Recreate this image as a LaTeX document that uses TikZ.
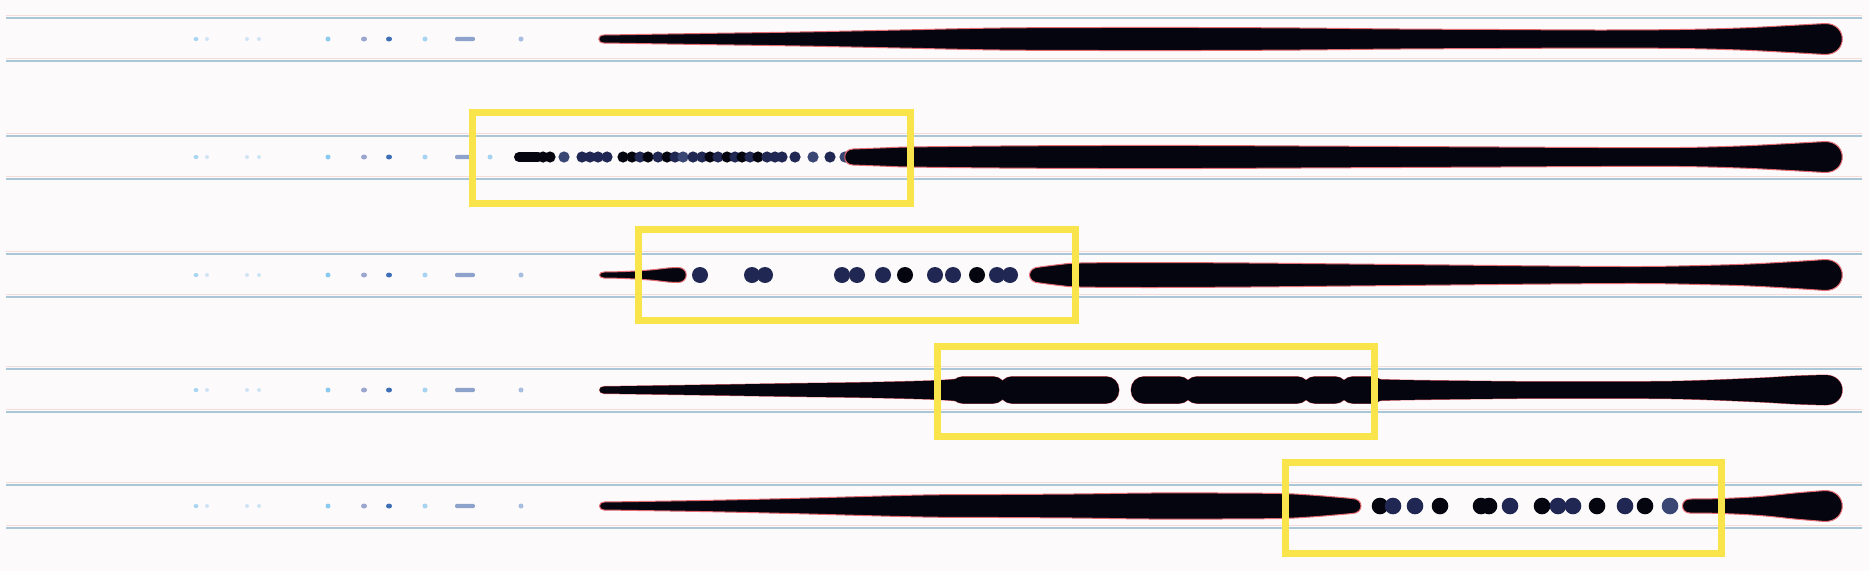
\documentclass[tikz,border=0pt]{standalone}
\definecolor{ink}{HTML}{05050F}
\definecolor{navy}{HTML}{1F2752}
\definecolor{navyl}{HTML}{3A4674}
\definecolor{fringe}{HTML}{E56A72}
\definecolor{rule}{HTML}{A9C7D6}
\definecolor{rulepink}{HTML}{F6DCD6}
\definecolor{hl}{HTML}{F9E44C}
\definecolor{bg}{HTML}{FCFAFB}
\definecolor{dA}{HTML}{A6D4F2}
\definecolor{dB}{HTML}{CFE5F5}
\definecolor{dC}{HTML}{8CCBF0}
\definecolor{dD}{HTML}{9AA6D0}
\definecolor{dE}{HTML}{3E6FB6}
\definecolor{dF}{HTML}{8EA3CC}
\definecolor{dG}{HTML}{A8BEE0}
\tikzset{
  streak/.style={fill=ink, draw=fringe, line width=1pt, line join=round},
  plainfill/.style={fill=ink},
  guide/.style={draw=rule, line width=1.6pt},
  guidep/.style={draw=rulepink, line width=1.4pt},
  hlbox/.style={draw=hl, line width=7pt},
  blob/.style={fill=ink, draw=fringe, line width=0.8pt, rounded corners=13pt},
  blobfill/.style={fill=ink, rounded corners=13pt},
}
\newcommand\rowlines{%
  \draw[guidep] (6,-23.5) -- (1862,-23.5);
  \draw[guide] (6,-21) -- (1862,-21);
  \draw[guidep] (6,19.5) -- (1862,19.5);
  \draw[guide] (6,22) -- (1862,22);
  \fill[dA] (196,0) ellipse[x radius=2.5pt, y radius=2pt];
  \fill[dB] (207,0) circle[radius=2pt];
  \fill[dB] (247,0) circle[radius=2pt];
  \fill[dB] (259,0) circle[radius=2pt];
  \fill[dC] (328,0) circle[radius=2.5pt];
  \fill[dD] (364,0) ellipse[x radius=3pt, y radius=2.5pt];
  \fill[dE] (389,0) ellipse[x radius=3pt, y radius=2.5pt];
  \fill[dA] (425,0) circle[radius=2.5pt];
  \fill[dF, rounded corners=2pt] (455,-2.2) rectangle (475,2.2);
}
% row 4 shapes: #1 streak style, #2 blob style
\newcommand\rowfourshapes[2]{%
  \path[#1] plot[smooth, tension=.6] coordinates {(604,-3.5) (700,-5) (790,-6.5) (860,-7.5) (923,-9) (945,-10) (962,-11.5) (975,-13)}
    -- plot[smooth, tension=.6] coordinates {(975,13) (962,11.5) (945,10) (923,9) (860,7.5) (790,6.5) (700,5) (604,3.5)}
    .. controls (598,3.5) and (598,-3.5) .. cycle;
  \path[#2] (950,-13.5) rectangle (1006,13.5);
  \path[#2] (999,-13.5) rectangle (1119,13.5);
  \path[#2] (1131,-13.5) rectangle (1192,13.5);
  \path[#2] (1184,-13.5) rectangle (1310,13.5);
  \path[#2] (1302,-13.5) rectangle (1348,13.5);
  \path[#2] (1340,-13.5) rectangle (1385,13.5);
  \path[#1] plot[smooth, tension=.6] coordinates {(1368,-11) (1400,-10) (1470,-9) (1550,-8.3) (1650,-8.5) (1700,-9.5) (1760,-12) (1795,-14) (1825,-15)}
    .. controls (1848,-15) and (1848,15) .. (1825,15)
    -- plot[smooth, tension=.6] coordinates {(1825,15) (1795,14) (1760,12) (1700,9.5) (1650,8.5) (1550,8.3) (1470,9) (1400,10) (1368,11)} -- cycle;
}
\begin{document}
\begin{tikzpicture}[x=1pt, y=-1pt]
\useasboundingbox (0,0) rectangle (1869,571);
\fill[bg] (0,0) rectangle (1869,571);

% ---------------- row 1
\begin{scope}[shift={(0,39)}]
\rowlines
\fill[dG] (521,0) circle[radius=2.5pt];
\path[streak] plot[smooth, tension=.6] coordinates {(604,-4) (700,-5.5) (800,-7) (900,-9) (1000,-11) (1100,-11.5) (1200,-11.5) (1300,-11) (1400,-10) (1500,-9.5) (1600,-9) (1680,-9.5) (1740,-11) (1790,-13.5) (1825,-15.5)}
  .. controls (1848,-15.5) and (1848,15.5) .. (1825,15.5)
  -- plot[smooth, tension=.6] coordinates {(1825,15.5) (1790,13.5) (1740,11) (1680,9.5) (1600,9) (1500,9.5) (1400,10) (1300,11) (1200,11.5) (1100,11.5) (1000,11) (900,9) (800,7) (700,5.5) (604,4)}
  .. controls (597,4) and (597,-4) .. cycle;
\end{scope}

% ---------------- row 2
\begin{scope}[shift={(0,157)}]
\rowlines
\fill[dA] (490,0) circle[radius=2.5pt];
\draw[ink, line width=10pt, line cap=round] (519,0) -- (538,0);
\foreach \x/\c in {543/ink,550/ink,564/navyl,582/navy,590/navy,598/navy,607/navy,623/ink,632/ink,640/navy,648/ink,658/navy,667/ink,675/navy,683/navyl,693/navy,702/navy,710/ink,718/navy,727/ink,735/navy,742/ink,750/navy,758/ink,767/navy,775/navy,782/navy,795/navy,813/navyl,830/navy,845/navyl}
  {\fill[fill=\c] (\x,0) circle[radius=5.6pt];}
\path[streak] plot[smooth, tension=.6] coordinates {(853,-8) (880,-9) (910,-10) (1000,-11) (1100,-11.5) (1200,-11.5) (1300,-11) (1400,-10.5) (1500,-10) (1600,-9.5) (1680,-9.5) (1740,-11) (1790,-13.5) (1825,-15.5)}
  .. controls (1848,-15.5) and (1848,15.5) .. (1825,15.5)
  -- plot[smooth, tension=.6] coordinates {(1825,15.5) (1790,13.5) (1740,11) (1680,9.5) (1600,9.5) (1500,10) (1400,10.5) (1300,11) (1200,11.5) (1100,11.5) (1000,11) (910,10) (880,9) (853,8)}
  .. controls (842,8) and (842,-8) .. cycle;
\draw[hlbox] (472,-44.5) rectangle (910,46);
\end{scope}

% ---------------- row 3
\begin{scope}[shift={(0,275)}]
\rowlines
\fill[dG] (521,0) circle[radius=2.5pt];
\path[streak] plot[smooth, tension=.6] coordinates {(604,-3) (625,-3.5) (650,-5) (668,-7) (678,-7.5)}
  .. controls (689,-7.5) and (689,7.5) .. (678,7.5)
  -- plot[smooth, tension=.6] coordinates {(678,7.5) (668,7) (650,5) (625,3.5) (604,3)}
  .. controls (598,3) and (598,-3) .. cycle;
\foreach \x/\c in {700/navy,752/navy,765/navy,842/navy,857/navy,883/navy,905/ink,935/navy,953/navy,977/ink,997/navy,1010/navy}
  {\fill[fill=\c] (\x,0) circle[radius=8pt];}
\path[streak] plot[smooth, tension=.6] coordinates {(1040,-8) (1060,-10.5) (1080,-12) (1150,-12.5) (1250,-12) (1350,-11) (1450,-10) (1550,-9) (1640,-8.5) (1700,-9.5) (1750,-11) (1795,-13.5) (1825,-15.5)}
  .. controls (1848,-15.5) and (1848,15.5) .. (1825,15.5)
  -- plot[smooth, tension=.6] coordinates {(1825,15.5) (1795,13.5) (1750,11) (1700,9.5) (1640,8.5) (1550,9) (1450,10) (1350,11) (1250,12) (1150,12.5) (1080,12) (1060,10.5) (1040,8)}
  .. controls (1026,8) and (1026,-8) .. cycle;
\draw[hlbox] (638,-45.5) rectangle (1075.5,45);
\end{scope}

% ---------------- row 4
\begin{scope}[shift={(0,390)}]
\rowlines
\fill[dG] (521,0) circle[radius=2.5pt];
\rowfourshapes{streak}{blob}
\rowfourshapes{plainfill}{blobfill}
\draw[hlbox] (937,-44) rectangle (1374,46.5);
\end{scope}

% ---------------- row 5
\begin{scope}[shift={(0,506)}]
\rowlines
\fill[dG] (521,0) circle[radius=2.5pt];
\path[streak] plot[smooth, tension=.6] coordinates {(604,-4) (700,-5.5) (790,-7.5) (923,-11) (1000,-11.5) (1073,-12) (1150,-13) (1220,-13) (1280,-12.5) (1310,-11) (1335,-9) (1352,-7.5)}
  .. controls (1364,-7.5) and (1364,7.5) .. (1352,7.5)
  -- plot[smooth, tension=.6] coordinates {(1352,7.5) (1335,9) (1310,11) (1280,12.5) (1220,13) (1150,13) (1073,12) (1000,11.5) (923,11) (790,7.5) (700,5.5) (604,4)}
  .. controls (598,4) and (598,-4) .. cycle;
\foreach \x/\c in {1380/ink,1393/navy,1415/navy,1440/ink,1481/ink,1489/ink,1510/navy,1542/ink,1558/navy,1573/navy,1597/ink,1625/navy,1645/ink,1670/navyl}
  {\fill[fill=\c] (\x,0) circle[radius=8.3pt];}
\path[streak] plot[smooth, tension=.6] coordinates {(1690,-7) (1722,-7.5) (1760,-9.5) (1795,-13) (1825,-15.5)}
  .. controls (1848,-15.5) and (1848,15.5) .. (1825,15.5)
  -- plot[smooth, tension=.6] coordinates {(1825,15.5) (1795,13) (1760,9.5) (1722,7.5) (1690,7)}
  .. controls (1680,7) and (1680,-7) .. cycle;
\draw[hlbox] (1285,-43.5) rectangle (1721.5,47.5);
\end{scope}
\end{tikzpicture}
\end{document}
